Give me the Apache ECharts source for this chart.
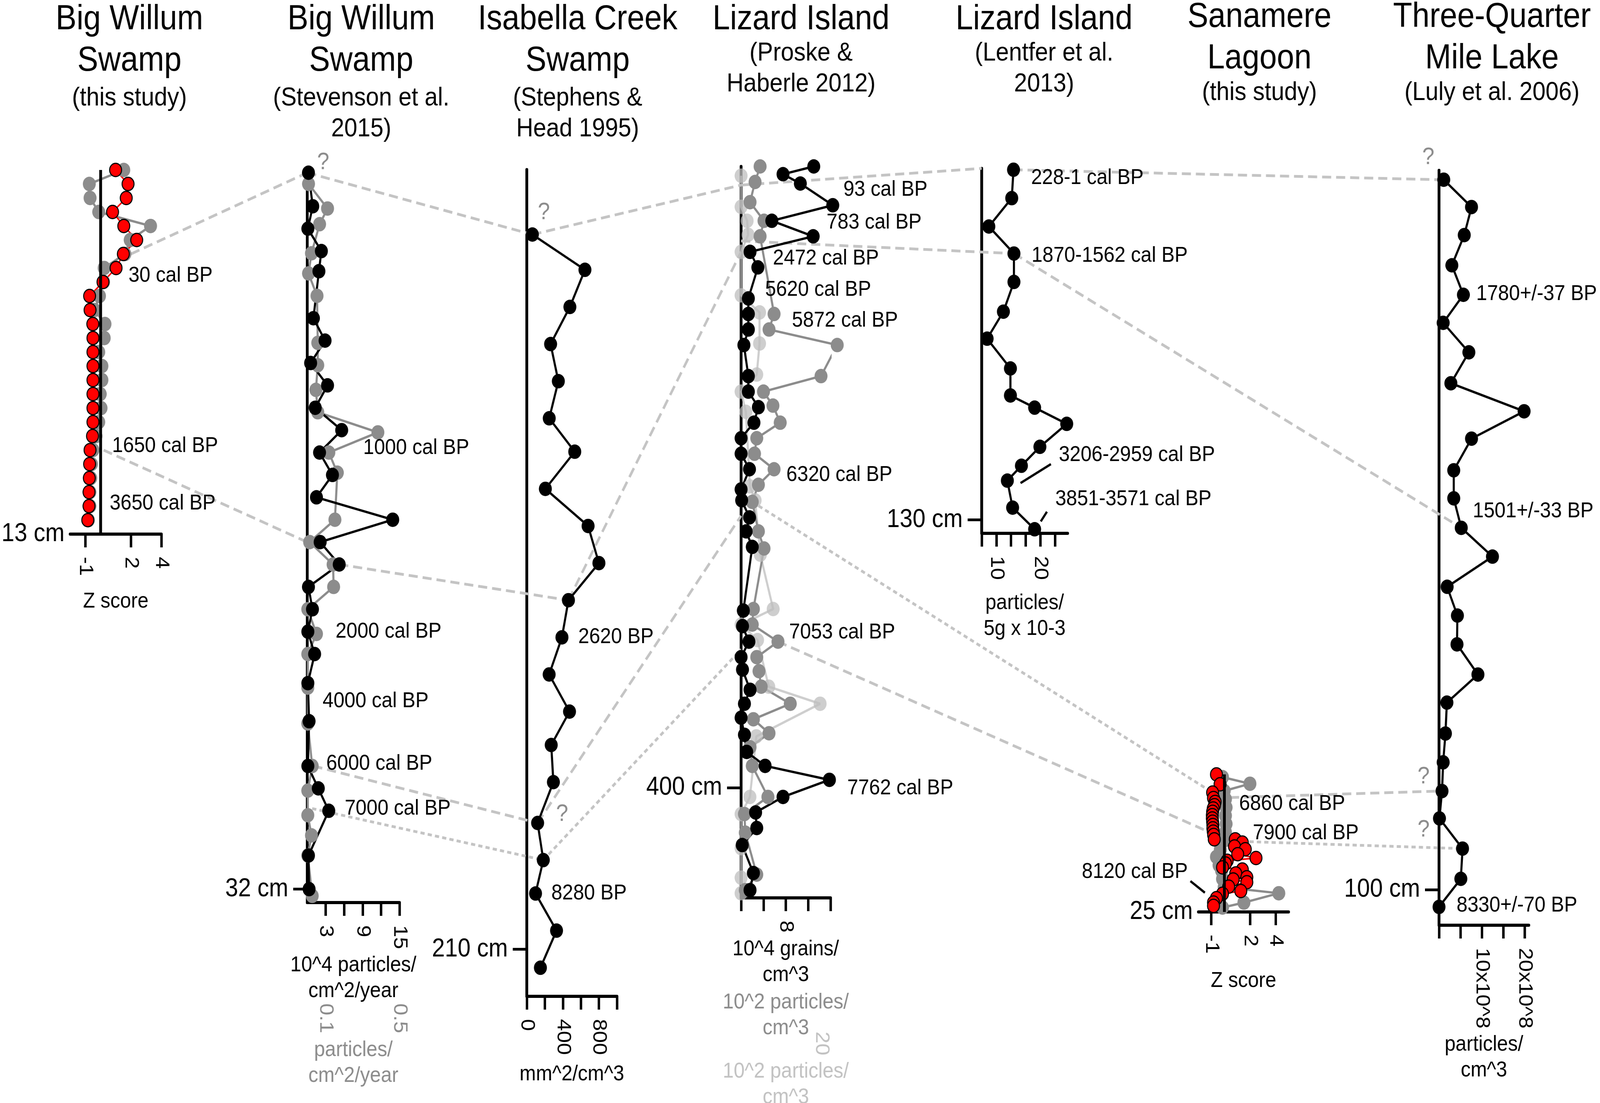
<!DOCTYPE html>
<html>
<head>
<meta charset="utf-8">
<script src="https://cdn.jsdelivr.net/npm/echarts@6/dist/echarts.min.js"></script>
<style>
html, body { margin: 0; padding: 0; background: #fff; overflow: hidden; }
#chart { width: 4562px; height: 2823px; transform-origin: 0 0; }
</style>
</head>
<body>
<div id="chart"></div>
<script>
/*********************** data ***********************/
// Big Willum Swamp (this study) - Z scores
var bw1Depth = [0, 0.5, 1, 1.5, 2, 2.5, 3, 3.5, 4, 4.5, 5, 5.5, 6, 6.5, 7, 7.5, 8, 8.5, 9, 9.5, 10, 10.5, 11, 11.5, 12, 12.5];
var bw1Red = [0.99, 1.81, 1.69, 0.79, 1.53, 2.38, 1.5, 1.02, 0.16, -0.72, -0.69, -0.51, -0.5, -0.5, -0.5, -0.5, -0.5, -0.5, -0.5, -0.53, -0.69, -0.72, -0.74, -0.76, -0.76, -0.84];
var bw1Grey = [1.53, -0.74, -0.69, -0.12, 3.29, 1.95, 1.6, 0.24, 0.2, -0.07, -0.4, 0.29, 0.24, -0.12, 0.09, 0.09, -0.02, 0.03, -0.12, -0.3, -0.5, -0.6, -0.65, -0.7, -0.7, -0.8];

// Big Willum Swamp (Stevenson et al. 2015)
var bw2BlackDepth = [0, 1.5, 2.5, 3.5, 4.4, 6.5, 7.5, 8.5, 9.5, 10.5, 11.5, 12.5, 13.5, 14.5, 15.5, 16.5, 17.5, 18.5, 19.5, 20.5, 21.5, 22.8, 24.5, 26.5, 27.5, 28.5, 30.5, 32];
var bw2Black = [0.2, 0.9, 0.1, 2.3, 1.9, 1.0, 2.9, 0.55, 3.3, 1.3, 5.6, 2.0, 4.1, 1.5, 13.9, 2.1, 5.2, 0.2, 0.85, 0.1, 1.2, 0.1, 0.3, 0.1, 1.8, 3.5, 0.2, 0.3];
var bw2GreyDepth = [0.5, 1.6, 2.3, 3.6, 4.5, 5.5, 7.6, 8.6, 9.7, 10.7, 11.6, 12.5, 13.4, 15.5, 16.5, 17.5, 18.5, 19.5, 20.6, 21.5, 23, 24.6, 26.5, 27.6, 28.7, 29.6, 30.5, 32.3];
var bw2Grey = [0.007, 0.11, 0.067, 0.023, 0.007, 0.053, 0.057, 0.057, 0.047, 0.057, 0.383, 0.117, 0.163, 0.15, 0.013, 0.14, 0.143, 0.003, 0.05, 0.003, 0.003, 0.003, 0.027, 0.003, 0.003, 0.023, 0.003, 0.027];

// Isabella Creek Swamp (Stephens & Head 1995)
var icDepth = [17.5, 27, 37, 47, 57, 67, 76, 86, 96, 106, 116, 126, 136, 146, 155, 165, 176, 186, 195, 205, 215];
var icValue = [62, 645, 478, 264, 350, 249, 532, 206, 680, 800, 462, 390, 248, 474, 271, 295, 120, 183, 97, 330, 151];

// Lizard Island (Proske & Haberle 2012)
var liBlackDepth = [0, 5, 11, 25, 35, 45, 55, 65, 85, 95, 105, 115, 135, 145, 155, 165, 175, 185, 195, 208, 215, 226, 235, 245, 286, 296, 306, 316, 324, 337, 346, 355, 366, 377, 386, 395, 406, 416, 426, 437, 455, 466];
var liBlack = [13.0, 7.5, 10.6, 16.4, 5.5, 12.9, 1.6, 3.0, 1.3, 1.3, 1.3, 0.5, 1.3, 1.3, 3.1, 2.3, 0, 0, 1.5, 0, 0.1, 1.5, 0.9, 2.0, 0.4, 0.25, 1.4, 0, 0.25, 1.6, 0.6, 0, 0.6, 1.0, 4.3, 15.8, 7.5, 2.6, 2.8, 0.2, 2.2, 1.6];
var liGreyDepth = [0, 10, 23, 35, 45, 95, 105, 115, 135, 145, 154, 165, 175, 185, 195, 205, 216, 235, 246, 285, 295, 306, 316, 325, 335, 346, 356, 365, 374, 386, 406, 417, 429, 456, 466];
var liGrey = [3.4, 2.5, 1.6, 4.1, 3.4, 5.9, 5.0, 17.2, 14.3, 4.0, 5.7, 7.0, 2.8, 2.4, 5.9, 3.1, 2.0, 3.1, 4.1, 2.2, 2.0, 6.6, 2.8, 3.2, 3.6, 8.8, 2.2, 5.0, 1.6, 2.0, 4.8, 0.6, 0.75, 2.8, 0.75];
var liLightDepth = [6, 26, 35, 44, 55, 83, 94, 114, 134, 145, 158, 206, 215, 250, 285, 295, 305, 335, 346, 367, 406, 417, 439, 458, 468];
var liLight = [0, 0, 1.5, 1.75, 0, 0, 4.6, 4.6, 3.9, 0, 1.2, 2.2, 3.5, 4.8, 8.0, 0, 4.1, 6.9, 19.7, 3.8, 2.2, 0, 0, 0, 0];

// Lizard Island (Lentfer et al. 2013)
var ltDepth = [0.5, 11, 21.5, 31.5, 42, 53, 63, 74, 84, 88.5, 94.5, 103, 110, 115.5, 125.5, 133.5];
var ltValue = [13.9, 13.5, 8.3, 14.0, 14.0, 11.6, 7.9, 13.2, 13.2, 18.7, 26.0, 19.9, 15.7, 12.5, 13.7, 18.7];

// Sanamere Lagoon (this study) - Z scores
var slRedDepth = [0, 1.8, 3.3, 4.3, 5, 5.6, 6.2, 6.8, 7.4, 8, 8.6, 9.2, 9.8, 10.4, 11, 11.8, 11.8, 12.4, 13.1, 13.6, 14.5, 15.2, 15.7, 16.2, 16.9, 17.3, 18.0, 18.7, 19.1, 19.6, 20.4, 21.2, 21.7, 22.5, 23.3, 23.9];
var slRed = [-0.6, -0.32, -0.9, -0.83, -0.7, -0.75, -0.85, -0.9, -0.92, -0.92, -0.9, -0.88, -0.88, -0.85, -0.82, -0.77, 0.86, 1.41, 0.8, 1.64, 1.05, 2.47, 0.23, 0.1, -0.13, 1.41, 0.9, 1.76, 0.7, 1.76, 0.35, 1.29, -0.13, -0.6, -0.83, -0.83];
var slGreyDepth = [0.5, 1.7, 3.0, 4.5, 6, 7.5, 9, 10.5, 12, 13.7, 15, 16.5, 17.5, 19, 20.5, 21.6, 23.3, 24.2];
var slGrey = [-0.13, 2.0, 0.0, 0.1, 0.15, 0.1, 0.15, 0.1, 0.0, -0.3, -0.6, -0.4, -0.2, -0.13, 0.0, 4.24, 1.53, -0.13];

// Three-Quarter Mile Lake (Luly et al. 2006)
var tqDepth = [1.3, 5.1, 9.0, 13.2, 17.3, 21.2, 25.3, 29.6, 33.5, 37.3, 41.7, 45.6, 49.7, 53.7, 57.9, 61.9, 65.9, 70.1, 74.0, 78.3, 82.3, 86.3, 90.1, 94.3, 98.5, 102.4];
var tqValue = [1.1, 7.6, 5.9, 3.0, 5.7, 0.97, 6.98, 2.77, 19.9, 7.6, 3.44, 3.44, 5.2, 12.5, 1.9, 4.3, 4.2, 9.1, 1.84, 1.5, 0.97, 0.7, 0.1, 5.5, 5.1, 0];

// depth axes: bottom of each core and the one labelled depth
var depthMax = [13, 32.6, 222.7, 471, 135, 25, 104.95];
var depthTick = [13, 32, 210, 400, 130, 25, 100];

// x axis ticks and labels
var bw1Ticks = [-1, 2, 4];
var bw2Ticks = [3, 6, 9, 12, 15];
var bw2Labels = [3, 9, 15];
var bw2GreyLabels = [0.1, 0.5];
var icTicks = [0, 200, 400, 600, 800, 1000];
var icLabels = [0, 400, 800];
var liTicks = [0, 4, 8, 12, 16];
var liLabels = [8];
var liLightLabels = [20];
var ltTicks = [6.667, 10, 13.333, 16.667, 20, 23.333];
var ltLabels = [10, 20];
var slTicks = [-1, 2, 4];
var tqTicks = [0, 5, 10, 15, 20];
var tqLabels = [10, 20];

// age notes: [core, x, depth, text, align]
var notes = [
    [0, 1.84, 3.77, '30 cal BP'],
    [0, 0.76, 9.85, '1650 cal BP'],
    [0, 0.6, 11.9, '3650 cal BP'],
    [1, 9.1, 12.3, '1000 cal BP'],
    [1, 4.6, 20.5, '2000 cal BP'],
    [1, 2.5, 23.6, '4000 cal BP'],
    [1, 3.1, 26.4, '6000 cal BP'],
    [1, 6.1, 28.4, '7000 cal BP'],
    [2, 571, 125.9, '2620 BP'],
    [2, 272, 195, '8280 BP'],
    [3, 18.3, 14.9, '93 cal BP'],
    [3, 15.3, 36, '783 cal BP'],
    [3, 5.7, 59.2, '2472 cal BP'],
    [3, 4.3, 79.3, '5620 cal BP'],
    [3, 9.1, 99.2, '5872 cal BP'],
    [3, 8.1, 198.6, '6320 cal BP'],
    [3, 8.6, 300, '7053 cal BP'],
    [3, 19, 400.5, '7762 cal BP'],
    [4, 17.9, 3.5, '228-1 cal BP'],
    [4, 18.0, 32.3, '1870-1562 cal BP'],
    [4, 24.2, 106, '3206-2959 cal BP'],
    [4, 23.4, 122.3, '3851-3571 cal BP'],
    [5, 1.16, 5.4, '6860 cal BP'],
    [5, 2.22, 10.7, '7900 cal BP'],
    [5, -2.83, 17.7, '8120 cal BP', 'right'],
    [6, 8.7, 17.2, '1780+/-37 BP'],
    [6, 7.9, 47.4, '1501+/-33 BP'],
    [6, 4.1, 102.2, '8330+/-70 BP']
];
// uncertain ties: [core, x, depth]
var queries = [[1, 2.6, -0.45], [2, 190, 11.6], [2, 392, 173.6], [6, -2.5, -1.8], [6, -3.6, 84.3], [6, -3.6, 91.7]];
// leader strokes from a note to its sample: [core, x1, d1, x2, d2]
var leaders = [[4, 15.5, 116.4, 22.4, 109.4], [4, 20.1, 130.6, 21.5, 127], [5, -2.62, 19.4, -1.5, 21.5]];
// correlation ties between cores: [coreA, xA, dA, coreB, xB, dB, dash]
var ties = [
    [0, 2.0, 3.0, 1, 0, 0, 'long'],
    [0, 0.2, 10.0, 1, 0, 16.5, 'long'],
    [1, 0, 0, 2, 62, 17.5, 'long'],
    [1, 5.2, 17.5, 2, 462, 116, 'long'],
    [1, 1.0, 26.5, 2, 120, 176, 'long'],
    [1, 0.8, 28.4, 2, 183, 186, 'short'],
    [2, 62, 17.5, 3, 0, 12, 'long'],
    [2, 462, 116, 3, 0, 55, 'long'],
    [2, 120, 176, 3, 0, 225, 'long'],
    [2, 183, 186, 3, 0, 311, 'short'],
    [3, 0, 12, 4, 6.667, 0, 'long'],
    [4, 13.9, 0.5, 6, 0, 1.3, 'long'],
    [3, 0, 48, 4, 14.0, 31.5, 'long'],
    [4, 14.0, 31.5, 6, 5.2, 49.7, 'long'],
    [3, 2.0, 216, 5, -0.9, 3.3, 'short'],
    [5, 0.45, 4.2, 6, 0, 86.3, 'long'],
    [3, 6.6, 306, 5, -0.85, 10.8, 'long'],
    [5, 0.25, 12.1, 6, 5.5, 94.3, 'short']
];

var titles = [
    {x: 369, mainY: 50, subY: 252, main: ['Big Willum', 'Swamp'], sub: ['(this study)']},
    {x: 1030, mainY: 50, subY: 252, main: ['Big Willum', 'Swamp'], sub: ['(Stevenson et al.', '2015)']},
    {x: 1647, mainY: 50, subY: 252, main: ['Isabella Creek', 'Swamp'], sub: ['(Stephens &', 'Head 1995)']},
    {x: 2284, mainY: 50, subY: 137, main: ['Lizard Island'], sub: ['(Proske &', 'Haberle 2012)']},
    {x: 2977, mainY: 50, subY: 137, main: ['Lizard Island'], sub: ['(Lentfer et al.', '2013)']},
    {x: 3591, mainY: 44, subY: 238, main: ['Sanamere', 'Lagoon'], sub: ['(this study)']},
    {x: 4254, mainY: 44, subY: 238, main: ['Three-Quarter', 'Mile Lake'], sub: ['(Luly et al. 2006)']}
];

/*********************** layout and style ***********************/
var FONT = '"Liberation Sans", Arial, Helvetica, sans-serif';
var GREY = '#8c8c8c';
var LIGHT = '#c2c2c2';
var TIE = '#c4c4c4';

var grids = [
    {left: 200, top: 435, width: 260, height: 932},
    {left: 876, top: 442, width: 263, height: 1868},
    {left: 1502, top: 434, width: 257, height: 2116},
    {left: 2113, top: 426, width: 255, height: 1872},
    {left: 2799, top: 431, width: 245, height: 934},
    {left: 3417, top: 1982, width: 257, height: 352},
    {left: 4103, top: 436, width: 256, height: 1932}
];
grids.forEach(function (g) { g.outerBoundsMode = 'none'; g.containLabel = false; });

function pairs(xs, ds) {
    return xs.map(function (v, i) { return [v, ds[i]]; });
}

function xAxisOf(grid, min, max, ticks, labels, name, extra) {
    var ax = {
        type: 'value', gridIndex: grid, position: 'bottom', min: min, max: max,
        splitLine: {show: false},
        axisLine: {show: true, onZero: false, lineStyle: {color: '#000', width: 8}},
        axisTick: {show: true, customValues: ticks, length: 34, lineStyle: {color: '#000', width: 7}},
        axisLabel: {customValues: labels, rotate: -90, margin: 58, fontSize: 55, color: '#000', fontFamily: FONT},
        name: name, nameLocation: 'middle', nameGap: 115,
        nameTextStyle: {fontSize: 56, lineHeight: 66, color: '#000', fontFamily: FONT}
    };
    if (extra) {
        for (var k in extra) {
            if (typeof extra[k] === 'object' && ax[k] && !Array.isArray(extra[k])) {
                for (var j in extra[k]) { ax[k][j] = extra[k][j]; }
            } else {
                ax[k] = extra[k];
            }
        }
    }
    return ax;
}

function hiddenLine() { return {show: false, onZero: false}; }

var xAxes = [
    xAxisOf(0, -2, 4, bw1Ticks, bw1Ticks, 'Z score', {nameGap: 140}),
    xAxisOf(1, 0, 15, bw2Ticks, bw2Labels, '10^4 particles/\ncm^2/year', {nameGap: 118}),
    xAxisOf(1, 0, 0.5, [], bw2GreyLabels, 'particles/\ncm^2/year', {
        offset: 200, nameGap: 145, axisLine: hiddenLine(), axisTick: {show: false},
        axisLabel: {color: GREY}, nameTextStyle: {color: GREY}
    }),
    xAxisOf(2, 0, 1000, icTicks, icLabels, 'mm^2/cm^3', {nameGap: 167}),
    xAxisOf(3, 0, 16, liTicks, liLabels, '10^4 grains/\ncm^3', {nameGap: 99}),
    xAxisOf(3, 0, 16, [], [], '10^2 particles/\ncm^3', {
        nameGap: 235, axisLine: hiddenLine(), axisTick: {show: false},
        axisLabel: {show: false}, nameTextStyle: {color: GREY}
    }),
    xAxisOf(3, 0, 22.3, [], liLightLabels, '10^2 particles/\ncm^3', {
        offset: 284, nameGap: 114, axisLine: hiddenLine(), axisTick: {show: false},
        axisLabel: {color: LIGHT}, nameTextStyle: {color: LIGHT}
    }),
    xAxisOf(4, 6.667, 26.2, ltTicks, ltLabels, 'particles/\n5g x 10-3', {nameGap: 146}),
    xAxisOf(5, -2, 5, slTicks, slTicks, 'Z score', {nameGap: 144}),
    xAxisOf(6, 0, 21, tqTicks, tqLabels, 'particles/\ncm^3', {
        nameGap: 269, axisLabel: {formatter: function (v) { return v + 'x10^8'; }}
    })
];
var mainX = [0, 1, 3, 4, 7, 8, 9];

var yAxes = depthMax.map(function (mx, i) {
    var line = !(i === 0 || i === 5);
    return {
        type: 'value', gridIndex: i, inverse: true, min: 0, max: mx, position: 'left',
        splitLine: {show: false},
        axisLine: {show: line, onZero: false, lineStyle: {color: '#000', width: 8}},
        axisTick: {show: line, customValues: [depthTick[i]], length: 40, lineStyle: {color: '#000', width: 7}},
        axisLabel: {
            customValues: [depthTick[i]], margin: line ? 54 : 16, fontSize: 66, color: '#000', fontFamily: FONT,
            formatter: function (v) { return v + ' cm'; }
        }
    };
});

function core(data, xi, yi, color, opts) {
    var s = {
        type: 'line', xAxisIndex: xi, yAxisIndex: yi, data: data,
        symbol: 'circle', symbolSize: 37, showSymbol: true, clip: false, silent: true,
        lineStyle: {color: color, width: 6},
        itemStyle: {color: color}
    };
    if (opts) { for (var k in opts) { s[k] = opts[k]; } }
    return s;
}
var zeroLine = {
    silent: true, symbol: ['none', 'none'], label: {show: false}, animation: false,
    lineStyle: {color: '#000', width: 8, type: 'solid'}, data: [{xAxis: 0}]
};
var redDot = {color: '#ff0000', borderColor: '#000', borderWidth: 3};

var series = [
    core(pairs(bw1Grey, bw1Depth), 0, 0, GREY, {markLine: zeroLine}),
    core(pairs(bw1Red, bw1Depth), 0, 0, '#ff0000', {itemStyle: redDot, lineStyle: {color: '#ff0000', width: 4}, symbolSize: 34}),
    core(pairs(bw2Grey, bw2GreyDepth), 2, 1, GREY),
    core(pairs(bw2Black, bw2BlackDepth), 1, 1, '#000'),
    core(pairs(icValue, icDepth), 3, 2, '#000'),
    core(pairs(liLight, liLightDepth), 6, 3, 'rgba(190,190,190,0.75)'),
    core(pairs(liGrey, liGreyDepth), 5, 3, GREY),
    core(pairs(liBlack, liBlackDepth), 4, 3, '#000'),
    core(pairs(ltValue, ltDepth), 7, 4, '#000'),
    core(pairs(slGrey, slGreyDepth), 8, 5, GREY, {markLine: zeroLine}),
    core(pairs(slRed, slRedDepth), 8, 5, '#ff0000', {itemStyle: redDot, lineStyle: {color: '#ff0000', width: 4}, symbolSize: 34}),
    core(pairs(tqValue, tqDepth), 9, 6, '#000')
];

// the figure is laid out on a 4562 x 2823 sheet; fit that sheet to the window
var box = document.getElementById('chart');
var sx = (window.innerWidth || 4562) / 4562;
var sy = (window.innerHeight || 2823) / 2823;
if (Math.abs(sx - 1) > 0.001 || Math.abs(sy - 1) > 0.001) {
    box.style.transform = 'scale(' + sx + ',' + sy + ')';
}

var chart = echarts.init(box);
chart.setOption({
    animation: false,
    backgroundColor: '#fff',
    textStyle: {fontFamily: FONT},
    grid: grids,
    xAxis: xAxes,
    yAxis: yAxes,
    series: series
});

/*********************** titles, notes and ties ***********************/
function toPx(p, x, d) {
    return chart.convertToPixel({xAxisIndex: mainX[p], yAxisIndex: p}, [x, d]);
}
function text(x, y, str, size, color, align, z) {
    return {
        type: 'text', x: x, y: y, z: z || 10, silent: true,
        style: {
            text: str, fill: color, font: size + 'px ' + FONT,
            align: align, verticalAlign: 'middle', textAlign: align, textVerticalAlign: 'middle'
        }
    };
}

var elements = [];
titles.forEach(function (t) {
    t.main.forEach(function (s, k) { elements.push(text(t.x, t.mainY + k * 106, s, 89, '#000', 'center')); });
    t.sub.forEach(function (s, k) { elements.push(text(t.x, t.subY + k * 79, s, 67, '#000', 'center')); });
});
ties.forEach(function (t) {
    var a = toPx(t[0], t[1], t[2]);
    var b = toPx(t[3], t[4], t[5]);
    elements.push({
        type: 'line', z: 1, silent: true,
        shape: {x1: a[0], y1: a[1], x2: b[0], y2: b[1]},
        style: {stroke: TIE, lineWidth: 7, lineDash: t[6] === 'long' ? [26, 14] : [12, 9]}
    });
});
notes.forEach(function (n) {
    var p = toPx(n[0], n[1], n[2]);
    elements.push(text(p[0], p[1], n[3], 56, '#000', n[4] || 'left'));
});
queries.forEach(function (q) {
    var p = toPx(q[0], q[1], q[2]);
    elements.push(text(p[0], p[1], '?', 62, GREY, 'center'));
});
leaders.forEach(function (l) {
    var a = toPx(l[0], l[1], l[2]);
    var b = toPx(l[0], l[3], l[4]);
    elements.push({
        type: 'line', z: 10, silent: true,
        shape: {x1: a[0], y1: a[1], x2: b[0], y2: b[1]},
        style: {stroke: '#000', lineWidth: 6}
    });
});
chart.setOption({graphic: {elements: elements}});
</script>
</body>
</html>
